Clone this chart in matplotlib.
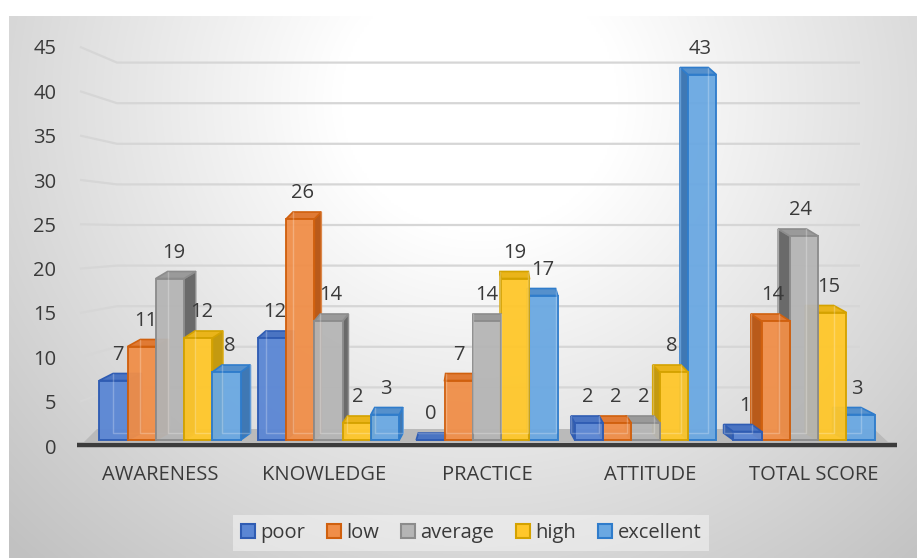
import numpy as np
import matplotlib
matplotlib.use('Agg')
import matplotlib.pyplot as plt
from matplotlib.patches import Polygon, Patch

plt.rcParams['font.family'] = ['Open Sans', 'DejaVu Sans']

categories = ["AWARENESS", "KNOWLEDGE", "PRACTICE", "ATTITUDE", "TOTAL SCORE"]
levels = ["poor", "low", "average", "high", "excellent"]
poor = [7, 12, 0, 2, 1]
low = [11, 26, 7, 2, 14]
average = [19, 14, 14, 2, 24]
high = [12, 2, 19, 8, 15]
excellent = [8, 3, 17, 43, 3]
y_ticks = [0, 5, 10, 15, 20, 25, 30, 35, 40, 45]

series = [poor, low, average, high, excellent]
face_cols = ["#5a86d4", "#f08e48", "#b5b5b5", "#ffc72a", "#6aa8e2"]
edge_cols = ["#2f5cb3", "#d0600e", "#8c8c8c", "#d4a200", "#2f7ccb"]
side_cols = ["#3a63ad", "#b95a1a", "#6a6a6a", "#c49a10", "#3f78b4"]
top_cols = ["#4a74c2", "#e07a34", "#9a9a9a", "#eab41a", "#5590cc"]
text_col = "#3a3a3a"
FS = 14.5

W, H = 917, 558
# pixel layout of the plot (front face plane)
X0_PX, X_STEP = 170.0, 158.5      # first category centre, spacing
Y0_PX, Y_STEP = 440.0, 8.5        # baseline, pixels per unit
VANISH_PX = 487.0
BAR_W = 28.3 / X_STEP
DY = 7.0 / Y_STEP


def px2x(px):
    return (px - X0_PX) / X_STEP


def py2y(py):
    return (Y0_PX - py) / Y_STEP


def depth_dx(x):
    xpx = X0_PX + x * X_STEP
    return (VANISH_PX - xpx) * 0.037 / X_STEP


fig = plt.figure(figsize=(W / 100, H / 100), dpi=100)
ax = fig.add_axes([0, 0, 1, 1])
ax.set_xlim(px2x(0), px2x(W))
ax.set_ylim(py2y(H), py2y(0))
ax.axis('off')

# chart area background: soft radial gradient
gx, gy = np.meshgrid(np.linspace(9, W, 400), np.linspace(16, H, 260))
d = np.sqrt((gx - 480) ** 2 + ((gy - 100) / 0.95) ** 2)
g = 1.0 - 0.24 * np.clip((d - 140) / 520.0, 0, 1)
img = np.dstack([g, g, g])
ax.imshow(img, extent=(px2x(9), px2x(W), py2y(H), py2y(16)),
          aspect='auto', interpolation='bilinear', zorder=0)

# gridlines on back wall and side wall
for v in y_ticks[1:]:
    back_y = py2y(428 - 8.12 * v)
    front_y = py2y(446 - 8.87 * v)
    ax.plot([px2x(80), px2x(117), px2x(860)], [front_y, back_y, back_y],
            color="#d6d6d6", lw=1.6, zorder=1, solid_capstyle='butt')

# floor
floor = Polygon([(px2x(84), py2y(442)), (px2x(888), py2y(442)),
                 (px2x(874), py2y(429)), (px2x(97), py2y(429))],
                closed=True, facecolor="#bababa", edgecolor="none", zorder=2)
ax.add_patch(floor)
ax.plot([px2x(77), px2x(897)], [py2y(445), py2y(445)], color="#3c3c3c",
        lw=3.2, zorder=2, solid_capstyle='butt')

x = np.arange(len(categories))
for j, vals in enumerate(series):
    xs = x + (j - 2) * BAR_W
    bars = ax.bar(xs, vals, BAR_W, color=face_cols[j], edgecolor=edge_cols[j],
                  linewidth=1.4, alpha=0.95)
    for xc, h, rect in zip(xs, vals, bars.patches):
        dx = depth_dx(xc)
        z = 10 - abs(dx) * 20
        rect.set_zorder(z + 0.02)
        x0, x1 = xc - BAR_W / 2, xc + BAR_W / 2
        top = Polygon([(x0, h), (x1, h), (x1 + dx, h + DY), (x0 + dx, h + DY)],
                      closed=True, facecolor=top_cols[j], edgecolor=edge_cols[j],
                      lw=1.2, zorder=z)
        sx = x1 if dx > 0 else x0
        side = Polygon([(sx, 0), (sx, h), (sx + dx, h + DY), (sx + dx, DY)],
                       closed=True, facecolor=side_cols[j], edgecolor=edge_cols[j],
                       lw=1.2, zorder=z)
        ax.add_patch(side)
        ax.add_patch(top)
        # see-through back edges
        ax.plot([x0 + dx, x0 + dx, x1 + dx, x1 + dx], [h + DY, DY, DY, h + DY],
                color="white", alpha=0.25, lw=1.0, zorder=z + 0.03)
        ax.annotate(str(h), (xc + dx * 0.3, h), xytext=(0, 18.5), textcoords='offset points',
                    ha='center', va='center', fontsize=FS, color=text_col, zorder=30)

# category labels
for i, cat in enumerate(categories):
    ax.text(i - 0.8 * depth_dx(i), py2y(475), cat, ha='center', va='center',
            fontsize=FS, color=text_col, zorder=30)

# value axis labels
lab = fig.add_axes([62 / W, (H - 446) / H, 0.0005, 399 / H])
lab.set_ylim(0, 45)
lab.set_yticks(y_ticks)
lab.set_yticklabels([str(t) for t in y_ticks], fontsize=FS, color=text_col)
lab.tick_params(axis='y', length=0, pad=4)
lab.set_xticks([])
lab.patch.set_visible(False)
for s in lab.spines.values():
    s.set_visible(False)

handles = [Patch(facecolor=face_cols[j], edgecolor=edge_cols[j], linewidth=1.5, label=levels[j])
           for j in range(len(levels))]
leg = fig.legend(handles=handles, loc='center', bbox_to_anchor=(471 / W, 1 - 533 / H),
                 ncol=5, fontsize=FS, frameon=True, fancybox=False,
                 handlelength=0.7, handleheight=0.7, handletextpad=0.25,
                 columnspacing=1.1, borderpad=0.4)
leg.get_frame().set_facecolor("#f4f4f4")
leg.get_frame().set_alpha(0.55)
leg.get_frame().set_edgecolor("none")
for t in leg.get_texts():
    t.set_color(text_col)

fig.savefig("out.png", dpi=100, facecolor="white")
